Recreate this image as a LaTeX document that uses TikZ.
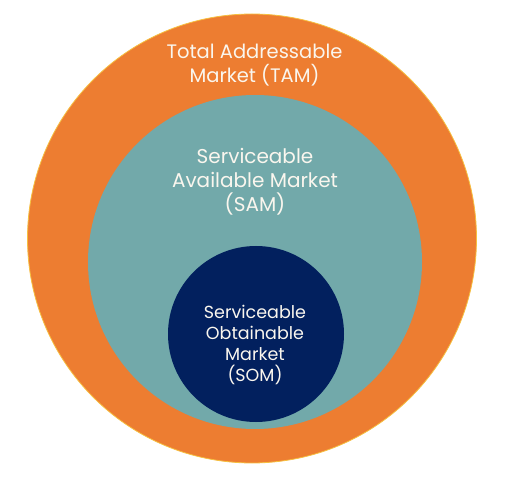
\documentclass[tikz,border=0pt]{standalone}
\usepackage{fontspec}
\setmainfont{Poppins}
\definecolor{tamc}{HTML}{ED7D31}
\definecolor{tamedge}{HTML}{F6C040}
\definecolor{samc}{HTML}{72A9AA}
\definecolor{somc}{HTML}{02205E}
\definecolor{txtc}{HTML}{FAF6EE}
\begin{document}
\begin{tikzpicture}[x=1pt,y=-1pt,
  ring/.style={circle,inner sep=0pt,outer sep=0pt},
  lbl/.style={text=txtc,align=center,inner sep=0pt}]
\useasboundingbox[fill=white] (0,0) rectangle (506,486);
\node[ring,fill=tamc,draw=tamedge,line width=0.8pt,minimum size=449pt] (tam) at (252,238.5) {};
\node[ring,fill=samc,minimum size=334pt] (sam) at (255,262) {};
\node[ring,fill=somc,minimum size=176pt] (som) at (256,334) {};
\node[lbl,font=\fontsize{19.5}{24}\selectfont] (tamt) at (254.5,65) {Total Addressable\\Market (TAM)};
\node[lbl,font=\fontsize{20}{24}\selectfont] (samt) at (255,182) {Serviceable\\Available Market\\(SAM)};
\node[lbl,font=\fontsize{17.5}{21.3}\selectfont] (somt) at (255,345) {Serviceable\\Obtainable\\Market\\(SOM)};
\end{tikzpicture}
\end{document}
